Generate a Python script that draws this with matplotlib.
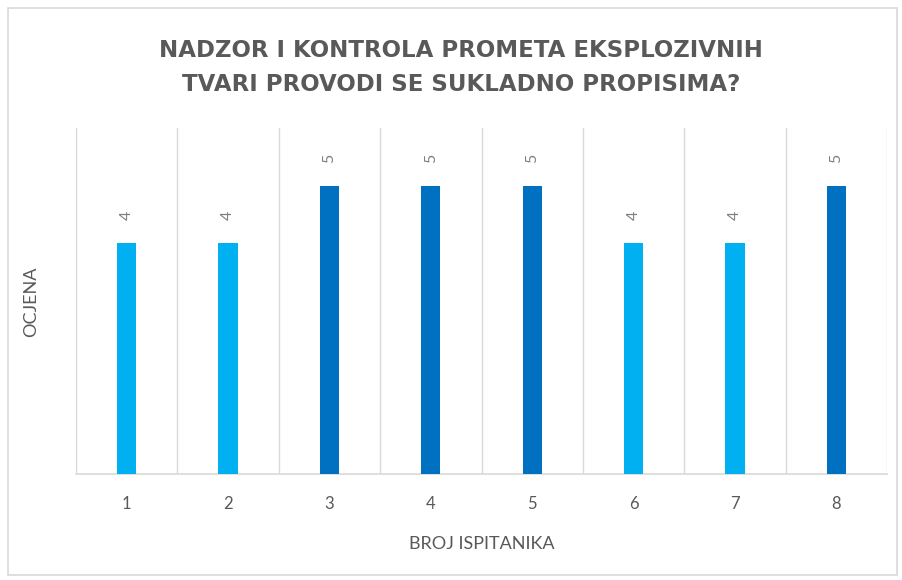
import matplotlib.pyplot as plt
from matplotlib.patches import Rectangle

# chart data
ispitanici = ['1', '2', '3', '4', '5', '6', '7', '8']
ocjene = [4, 4, 5, 5, 5, 4, 4, 5]

light_blue = '#00B0F0'
dark_blue = '#0070C0'
text_gray = '#595959'
grid_gray = '#D9D9D9'

plt.rcParams['font.family'] = ['Lato', 'DejaVu Sans']

fig = plt.figure(figsize=(9.03, 5.8), dpi=100)
fig.patches.append(Rectangle((0.009, 0.008), 0.984, 0.978, transform=fig.transFigure,
                             fill=False, edgecolor=grid_gray, linewidth=1.2))

ax = fig.add_axes([0.0842, 0.1828, 0.8981, 0.5966])
x = list(range(1, len(ispitanici) + 1))
colors = [dark_blue if v == 5 else light_blue for v in ocjene]
bars = ax.bar(x, ocjene, width=0.19, color=colors, zorder=3)

for b, v in zip(bars, ocjene):
    ax.text(b.get_x() + b.get_width() / 2, v + 0.4, str(v), rotation=90,
            ha='center', va='bottom', fontsize=11.5, color='#7F7F7F')

ax.set_xlim(0.5, 8.5)
ax.set_ylim(0, 6)
for gx in [i + 0.5 for i in range(0, 9)]:
    ax.axvline(gx, color=grid_gray, linewidth=1, zorder=1)

ax.set_xticks(x)
ax.set_xticklabels(ispitanici, fontsize=12, color=text_gray)
ax.tick_params(axis='x', length=0, pad=16)
ax.set_yticks([])
for s in ['top', 'right', 'left']:
    ax.spines[s].set_visible(False)
ax.spines['bottom'].set_color(grid_gray)
ax.spines['bottom'].set_linewidth(1.2)

ax.set_xlabel('BROJ ISPITANIKA', fontsize=13, color=text_gray, labelpad=17)
fig.text(0.034, 0.48, 'OCJENA', rotation=90, fontsize=13, color=text_gray,
         ha='center', va='center')

title_font = dict(ha='center', va='center', fontsize=16.5, fontweight='bold',
                  color=text_gray, family=['DejaVu Sans'])
fig.text(0.511, 0.913, 'NADZOR I KONTROLA PROMETA EKSPLOZIVNIH', **title_font)
fig.text(0.511, 0.855, 'TVARI PROVODI SE SUKLADNO PROPISIMA?', **title_font)

fig.savefig('out.png', dpi=100)
